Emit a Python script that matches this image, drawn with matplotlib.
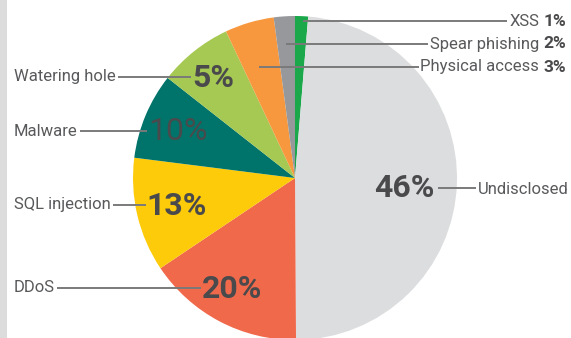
import matplotlib.pyplot as plt
from matplotlib.patches import Rectangle

plt.rcParams['font.family'] = ['Roboto', 'DejaVu Sans']

# slices clockwise from 12 o'clock
names = ['XSS', 'Undisclosed', 'DDoS', 'SQL injection', 'Malware',
         'Watering hole', 'Physical access', 'Spear phishing']
labels_pct = [1, 46, 20, 13, 10, 5, 3, 2]
# share of the circle as it is drawn in the infographic (not to scale with the labels)
drawn_share = [1.3, 48.6, 15.7, 11.4, 8.6, 7.4, 4.9, 2.1]
colors = ['#1ba84b', '#dcdddf', '#f1694b', '#fdcb0a', '#00736a',
          '#a5c952', '#f7983e', '#97989b']

W, H = 571, 338
fig = plt.figure(figsize=(W / 100, H / 100), dpi=100)
ax = fig.add_axes([0, 0, 1, 1])

def py(y):
    # pixel row (from top) -> data y
    return H - y

ax.pie(drawn_share, colors=colors, startangle=90, counterclock=False,
       center=(295, py(178)), radius=162, frame=True,
       wedgeprops=dict(linewidth=0))
ax.set_xlim(0, W)
ax.set_ylim(0, H)
ax.set_aspect('equal')
ax.axis('off')
ax.add_patch(Rectangle((0, 0), 7, H, color='#dcdcdc', lw=0))

line_c = '#7a7a7a'
text_c = '#58595b'
num_c = '#4a4a4c'

def leader(x0, x1, y):
    ax.plot([x0, x1], [py(y), py(y)], color=line_c, lw=1.4, solid_capstyle='butt')

def extent(t):
    fig.canvas.draw()
    return t.get_window_extent()

# right side small slices
right_rows = [(0, 303, 21), (7, 286, 44), (6, 259, 67)]
for i, xs, y in right_rows:
    t2 = ax.text(566, py(y), f'{labels_pct[i]}%', ha='right', va='center',
                 fontsize=12.5, fontweight='bold', color=num_c)
    t1 = ax.text(extent(t2).x0 - 4, py(y), names[i], ha='right', va='center',
                 fontsize=12, color=text_c)
    leader(xs, extent(t1).x0 - 2, y)

# left side labels with big percentages on the slices
left_rows = [(5, 77, 213, 'bold'),
             (4, 131, 178, 'normal'),
             (3, 205, 177, 'bold'),
             (2, 288, 232, 'bold')]
for i, y, cx, wt in left_rows:
    t1 = ax.text(14, py(y), names[i], ha='left', va='center', fontsize=12,
                 color=text_c)
    t2 = ax.text(cx, py(y + 1), f'{labels_pct[i]}%', ha='center', va='center',
                 fontsize=23, fontweight=wt, color=num_c)
    leader(extent(t1).x1 + 2, extent(t2).x0 - 1, y)

# undisclosed
t2 = ax.text(404, py(188), f'{labels_pct[1]}%', ha='center', va='center',
             fontsize=23, fontweight='bold', color=num_c)
t1 = ax.text(478, py(189), names[1], ha='left', va='center', fontsize=12,
             color=text_c)
leader(extent(t2).x1 + 4, extent(t1).x0 - 2, 188)

fig.savefig('out.png', dpi=100)
